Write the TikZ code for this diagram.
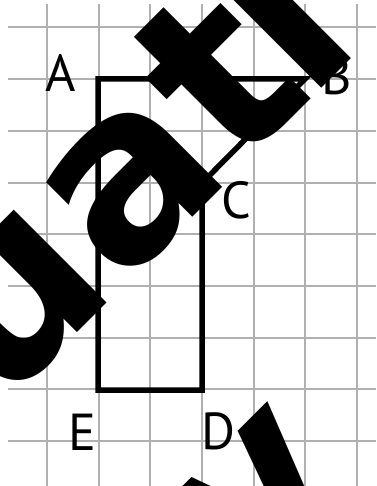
\documentclass[tikz,border=0pt]{standalone}
\usepackage{fontspec}
\setmainfont{DejaVu Sans}
\newfontfamily\labelfont{PT Sans}
\newfontfamily\wmfont{DejaVu Sans Bold}
\definecolor{gridgray}{RGB}{176,176,176}
\tikzset{
  gridline/.style={draw=gridgray, line width=2pt},
  figline/.style={draw=black, line width=5.5pt, line join=miter},
  lbl/.style={inner sep=0pt, font=\labelfont\fontsize{52}{52}\selectfont},
  wm/.style={inner sep=0pt, rotate=45, text=black, font=\wmfont\fontsize{240}{240}\selectfont}
}
\begin{document}
\begin{tikzpicture}[x=1pt,y=-1pt]
\useasboundingbox (0,0) rectangle (376,486);
\clip (0,0) rectangle (376,486);
\fill[white] (0,0) rectangle (376,486);
% grid
\foreach \k in {0,...,8} \draw[gridline] (8,27.5+51.67*\k) -- (376,27.5+51.67*\k);
\foreach \k in {0,...,6} \draw[gridline] (47+51.67*\k,4) -- (47+51.67*\k,486);
% figure
\coordinate (A) at (98,79);
\coordinate (B) at (305,79);
\coordinate (C) at (202,183);
\coordinate (D) at (202,390);
\coordinate (E) at (98,390);
\draw[figline] (A) -- (B) -- (C) -- (D) -- (E) -- cycle;
% labels
\node[lbl] (la) at (61,73) {A};
\node[lbl] (lb) at (337,76) {B};
\node[lbl] (lc) at (236,200) {C};
\node[lbl] (ld) at (218,431) {D};
\node[lbl] (le) at (82,432) {E};
% watermark
\node[wm, anchor=base east] (w1) at (121.6,288.4) {Evalu\rlap{at\kern-14pt i\kern40pt on}};
\node[wm, anchor=base west] (w2) at (252,603) {v};
\end{tikzpicture}
\end{document}
